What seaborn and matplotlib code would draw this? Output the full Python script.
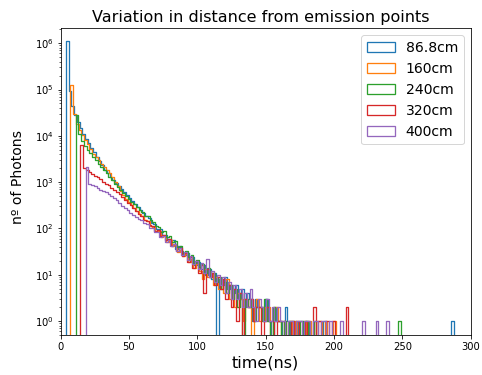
import numpy as np
import pandas as pd
import matplotlib
matplotlib.use("Agg")
import matplotlib.pyplot as plt
import matplotlib.patches as mpatches
import seaborn as sns

# ---------------- data ----------------
labels = ["86.8cm", "160cm", "240cm", "320cm", "400cm"]
colors = ["#1f77b4", "#ff7f0e", "#2ca02c", "#d62728", "#9467bd"]
bin_width = 2.0                      # ns
starts = [3.9, 7.2, 11.1, 14.5, 18.4]  # first populated bin edge (ns)

counts_868 = [1100000, 95000, 45000, 28000, 19500, 14500, 11000, 8700, 6900, 5500,
              4450, 3550, 2800, 2290, 1860, 1580, 1320, 1120, 955, 813,
              708, 603, 525, 447, 389, 339, 288, 251, 214, 186,
              170, 128, 126, 95, 97, 72, 74, 60, 49, 55,
              36, 42, 33, 27, 30, 21, 24, 16, 19, 13,
              16, 10, 13, 8, 11, 0, 8, 6, 9, 5,
              6, 4, 6, 3, 5, 2, 4, 3, 1, 3,
              2, 2, 1, 3, 1, 0, 2, 1, 1, 0,
              2, 1]
counts_160 = [124000, 30000, 18200, 13200, 10200, 8100, 6500, 5100, 4100, 3470,
              2950, 2510, 2140, 1820, 1550, 1260, 1000, 810, 650, 525,
              430, 370, 318, 275, 240, 210, 188, 152, 145, 112,
              110, 86, 88, 66, 70, 52, 55, 41, 44, 31,
              34, 26, 28, 19, 22, 14, 17, 12, 8, 13,
              9, 11, 6, 9, 5, 7, 4, 8, 3, 5,
              2, 4, 3, 1, 3, 2, 0, 2, 3, 1,
              2, 1, 2, 0, 1, 2, 1, 0, 1]
counts_240 = [27500, 10700, 7600, 5900, 5000, 4170, 3470, 2950, 2510, 2140,
              1820, 1550, 1290, 1100, 930, 795, 675, 575, 490, 435,
              380, 330, 290, 250, 232, 190, 182, 150, 138, 112,
              108, 85, 88, 66, 68, 50, 54, 40, 42, 30,
              33, 24, 27, 18, 21, 15, 17, 11, 14, 9,
              11, 7, 9, 5, 7, 4, 6, 3, 5, 2,
              4, 0, 3, 2, 3, 1, 2, 2, 1, 3,
              1, 0, 2, 1, 1, 0, 1]
counts_320 = [6300, 2040, 1820, 1660, 1510, 1380, 1260, 1150, 1020, 930,
              850, 760, 690, 617, 550, 480, 417, 363, 316, 275,
              240, 209, 186, 152, 146, 116, 112, 90, 92, 70,
              74, 55, 58, 42, 47, 33, 38, 26, 29, 19,
              24, 14, 20, 11, 16, 4, 13, 9, 11, 6,
              9, 5, 8, 3, 6, 2, 5, 1, 4, 0,
              3, 2, 3, 1, 2, 2, 0, 1, 2, 1,
              1, 0, 1, 1]
counts_400 = [2100, 910, 850, 810, 760, 690, 645, 600, 560, 510,
              457, 407, 355, 300, 270, 245, 220, 200, 178, 162,
              150, 128, 122, 102, 100, 82, 84, 65, 69, 52,
              56, 42, 47, 33, 38, 27, 31, 21, 25, 17,
              20, 13, 18, 11, 22, 9, 12, 7, 10, 6,
              9, 4, 7, 3, 6, 3, 5, 2, 4, 2,
              5, 2, 1, 3, 2, 1, 3, 1, 2, 1,
              2, 1, 1]

# isolated single-photon arrival times in the sparse tail (ns)
tail_868 = [171.0, 175.7, 175.9, 181.0, 192.0, 287.4]
tail_160 = [167.5, 172.0, 178.0, 183.0, 189.0, 189.2, 194.0, 200.8]
tail_240 = [168.0, 170.0, 176.0, 180.0, 186.0, 248.9]
tail_320 = [164.0, 169.0, 174.0, 179.0, 185.7, 185.8, 189.0, 195.0, 199.0,
            210.0, 210.1]
tail_400 = [167.0, 170.0, 173.0, 176.0, 179.0, 182.0, 185.0, 188.0, 191.0, 193.0,
            197.0, 205.7, 220.8, 230.6, 239.3]

xticks = [0, 50, 100, 150, 200, 250, 300]

all_counts = [counts_868, counts_160, counts_240, counts_320, counts_400]
all_tails = [tail_868, tail_160, tail_240, tail_320, tail_400]

# ---------------- figure ----------------
DPI = 72
fig = plt.figure(figsize=(482 / DPI, 375 / DPI), dpi=DPI)
ax = fig.add_axes([60.5 / 482, 40 / 375, (470.7 - 60.5) / 482, (335 - 28.3) / 375])

for start, counts, tail, color in zip(starts, all_counts, all_tails, colors):
    centers = start + bin_width * (np.arange(len(counts)) + 0.5)
    df = pd.DataFrame({
        "t": np.concatenate([centers, np.asarray(tail, float)]),
        "n": np.concatenate([np.asarray(counts, float), np.ones(len(tail))]),
    })
    nb = int((300 - start) / bin_width) + 3
    lo = start - bin_width
    sns.histplot(data=df, x="t", weights="n", binwidth=bin_width,
                 binrange=(lo, lo + bin_width * nb), element="step",
                 fill=False, color=color, linewidth=1.3, ax=ax)

ax.set_yscale("log")
ax.set_ylim(0.5, 2.1e6)
ax.set_xlim(0, 300)
ax.set_xticks(xticks)
ax.set_xlabel("time(ns)", fontsize=16)
ax.set_ylabel("nº of Photons", fontsize=14)
ax.yaxis.set_label_coords(-0.087, 0.516)
ax.set_title("Variation in distance from emission points", fontsize=16, x=0.487)
ax.tick_params(labelsize=10)

handles = [mpatches.Patch(facecolor="none", edgecolor=c, linewidth=1.3, label=l)
           for c, l in zip(colors, labels)]
ax.legend(handles=handles, loc="upper right", fontsize=14)

fig.savefig("out.png", dpi=DPI)
